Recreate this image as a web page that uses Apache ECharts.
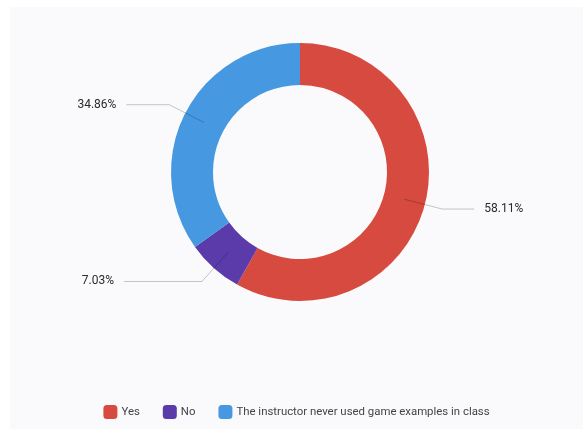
<!DOCTYPE html>
<html>
<head>
<meta charset="utf-8">
<script src="https://cdn.jsdelivr.net/npm/echarts@6/dist/echarts.min.js"></script>
<style>
  html, body { margin: 0; padding: 0; background: #ffffff; }
  #chart { position: absolute; left: 10px; top: 7px; width: 573px; height: 422px; background: #fafafc; }
</style>
</head>
<body>
<div id="chart"></div>
<script>
const categories = ["Yes", "No", "The instructor never used game examples in class"];
const shares = [58.11, 7.03, 34.86];
const colors = ["#d64a3f", "#5b3aa9", "#4699e0"];
// horizontal part of each label line, so left labels line up
const lineTails = [32, 78, 43];

const chart = echarts.init(document.getElementById("chart"));

const ringData = categories.map((name, i) => ({
  name: name,
  value: shares[i],
  itemStyle: { color: colors[i] }
}));

const labelData = categories.map((name, i) => ({
  name: name,
  value: shares[i],
  labelLine: { length: 39, length2: lineTails[i] }
}));

chart.setOption({
  animation: false,
  legend: {
    bottom: 5,
    left: "center",
    icon: "roundRect",
    itemWidth: 14,
    itemHeight: 14,
    itemGap: 23,
    textStyle: { color: "#444", fontSize: 11.4, fontFamily: "Roboto, sans-serif", padding: [0, 0, 0, -1] },
    data: categories.map((name, i) => ({ name: name, itemStyle: { color: colors[i] } }))
  },
  series: [
    {
      type: "pie",
      center: [290, 165],
      radius: [87, 129],
      startAngle: 90,
      clockwise: true,
      label: { show: false },
      labelLine: { show: false },
      emphasis: { disabled: true },
      silent: true,
      data: ringData
    },
    {
      // invisible inner pie only used to place labels starting mid-ring
      type: "pie",
      z: 5,
      center: [290, 165],
      radius: [0, 108],
      startAngle: 90,
      clockwise: true,
      silent: true,
      emphasis: { disabled: true },
      itemStyle: { color: "rgba(0,0,0,0)" },
      label: {
        show: true,
        position: "outside",
        formatter: (p) => p.value.toFixed(2) + "%",
        color: "#2a2a2a",
        fontSize: 12,
        fontFamily: "Roboto, sans-serif",
        distanceToLabelLine: 10
      },
      labelLine: {
        show: true,
        lineStyle: { color: "rgba(0,0,0,0.22)", width: 1 }
      },
      data: labelData
    }
  ]
});
</script>
</body>
</html>
